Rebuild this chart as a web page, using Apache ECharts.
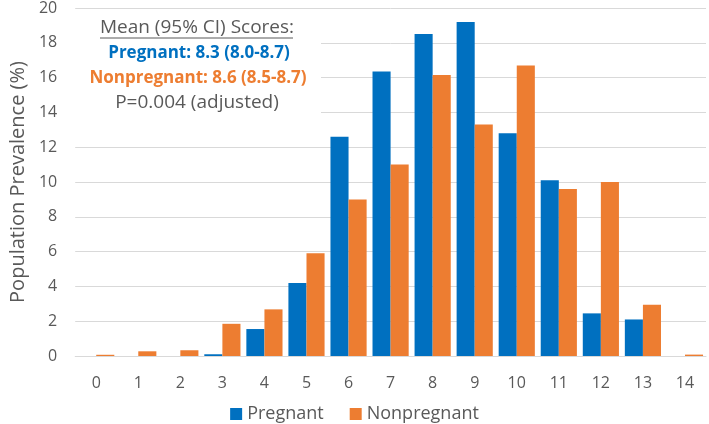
<!DOCTYPE html>
<html>
<head>
<meta charset="utf-8">
<script src="https://cdn.jsdelivr.net/npm/echarts@6/dist/echarts.min.js"></script>
<style>
  html, body { margin: 0; padding: 0; background: #fff; }
  #chart { width: 709px; height: 424px; }
</style>
</head>
<body>
<div id="chart"></div>
<script>
// 评分分布
var categories = ['0', '1', '2', '3', '4', '5', '6', '7', '8', '9', '10', '11', '12', '13', '14']
var pregnant = [0, 0, 0, 0.1, 1.55, 4.2, 12.6, 16.35, 18.5, 19.2, 12.8, 10.1, 2.45, 2.1, 0]
var nonpregnant = [0.07, 0.27, 0.33, 1.85, 2.68, 5.9, 9.0, 11.0, 16.15, 13.3, 16.7, 9.6, 10.0, 2.95, 0.08]
var yTicks = { min: 0, max: 20, interval: 2 }
var noteLines = [
  'Mean (95% CI) Scores:',
  'Pregnant: 8.3 (8.0-8.7)',
  'Nonpregnant: 8.6 (8.5-8.7)',
  'P=0.004 (adjusted)'
]

var font = 'Open Sans'
var chart = echarts.init(document.getElementById('chart'))
var option = {
  animation: false,
  color: ['#0070C0', '#ED7D31'],
  grid: {
    left: 63,
    right: 3,
    top: 7,
    bottom: 68
  },
  legend: {
    bottom: -4,
    left: 'center',
    icon: 'rect',
    itemWidth: 12,
    itemHeight: 12,
    itemGap: 26,
    textStyle: { color: '#595959', fontFamily: font, fontSize: 18 },
    data: ['Pregnant', 'Nonpregnant']
  },
  xAxis: {
    type: 'category',
    data: categories,
    axisLine: { show: true, lineStyle: { color: '#D9D9D9' } },
    axisTick: { show: false },
    axisLabel: { color: '#595959', fontFamily: font, fontSize: 16, margin: 19 }
  },
  yAxis: {
    type: 'value',
    min: yTicks.min,
    max: yTicks.max,
    interval: yTicks.interval,
    name: 'Population Prevalence (%)',
    nameLocation: 'middle',
    nameGap: 43,
    nameTextStyle: { color: '#595959', fontFamily: font, fontSize: 20 },
    axisLine: { show: false },
    axisTick: { show: false },
    axisLabel: { color: '#595959', fontFamily: font, fontSize: 16, margin: 18 },
    splitLine: { lineStyle: { color: '#D9D9D9', width: 1 } }
  },
  series: [
    {
      name: 'Pregnant',
      type: 'bar',
      barGap: '0%',
      barCategoryGap: '14%',
      data: pregnant
    },
    {
      name: 'Nonpregnant',
      type: 'bar',
      barGap: '0%',
      barCategoryGap: '14%',
      data: nonpregnant
    }
  ],
  graphic: [
    {
      type: 'rect',
      left: 73,
      top: 14,
      shape: { width: 248, height: 110 },
      style: { fill: '#fff' },
      z: 10
    },
    {
      type: 'text',
      x: 197,
      y: 28,
      style: { text: noteLines[0], fill: '#595959', font: '19px "Open Sans"', align: 'center', verticalAlign: 'middle' },
      z: 11
    },
    {
      type: 'line',
      shape: { x1: 100, y1: 38, x2: 293, y2: 38 },
      style: { stroke: '#595959', lineWidth: 1 },
      z: 11
    },
    {
      type: 'text',
      x: 199,
      y: 53,
      style: { text: noteLines[1], fill: '#0070C0', font: 'bold 17px "Open Sans"', align: 'center', verticalAlign: 'middle' },
      z: 11
    },
    {
      type: 'text',
      x: 198,
      y: 78,
      style: { text: noteLines[2], fill: '#ED7D31', font: 'bold 17px "Open Sans"', align: 'center', verticalAlign: 'middle' },
      z: 11
    },
    {
      type: 'text',
      x: 197,
      y: 103,
      style: { text: noteLines[3], fill: '#595959', font: '19px "Open Sans"', align: 'center', verticalAlign: 'middle' },
      z: 11
    }
  ]
}
chart.setOption(option, true)
window.addEventListener('resize', () => {
  chart.resize()
})
</script>
</body>
</html>
